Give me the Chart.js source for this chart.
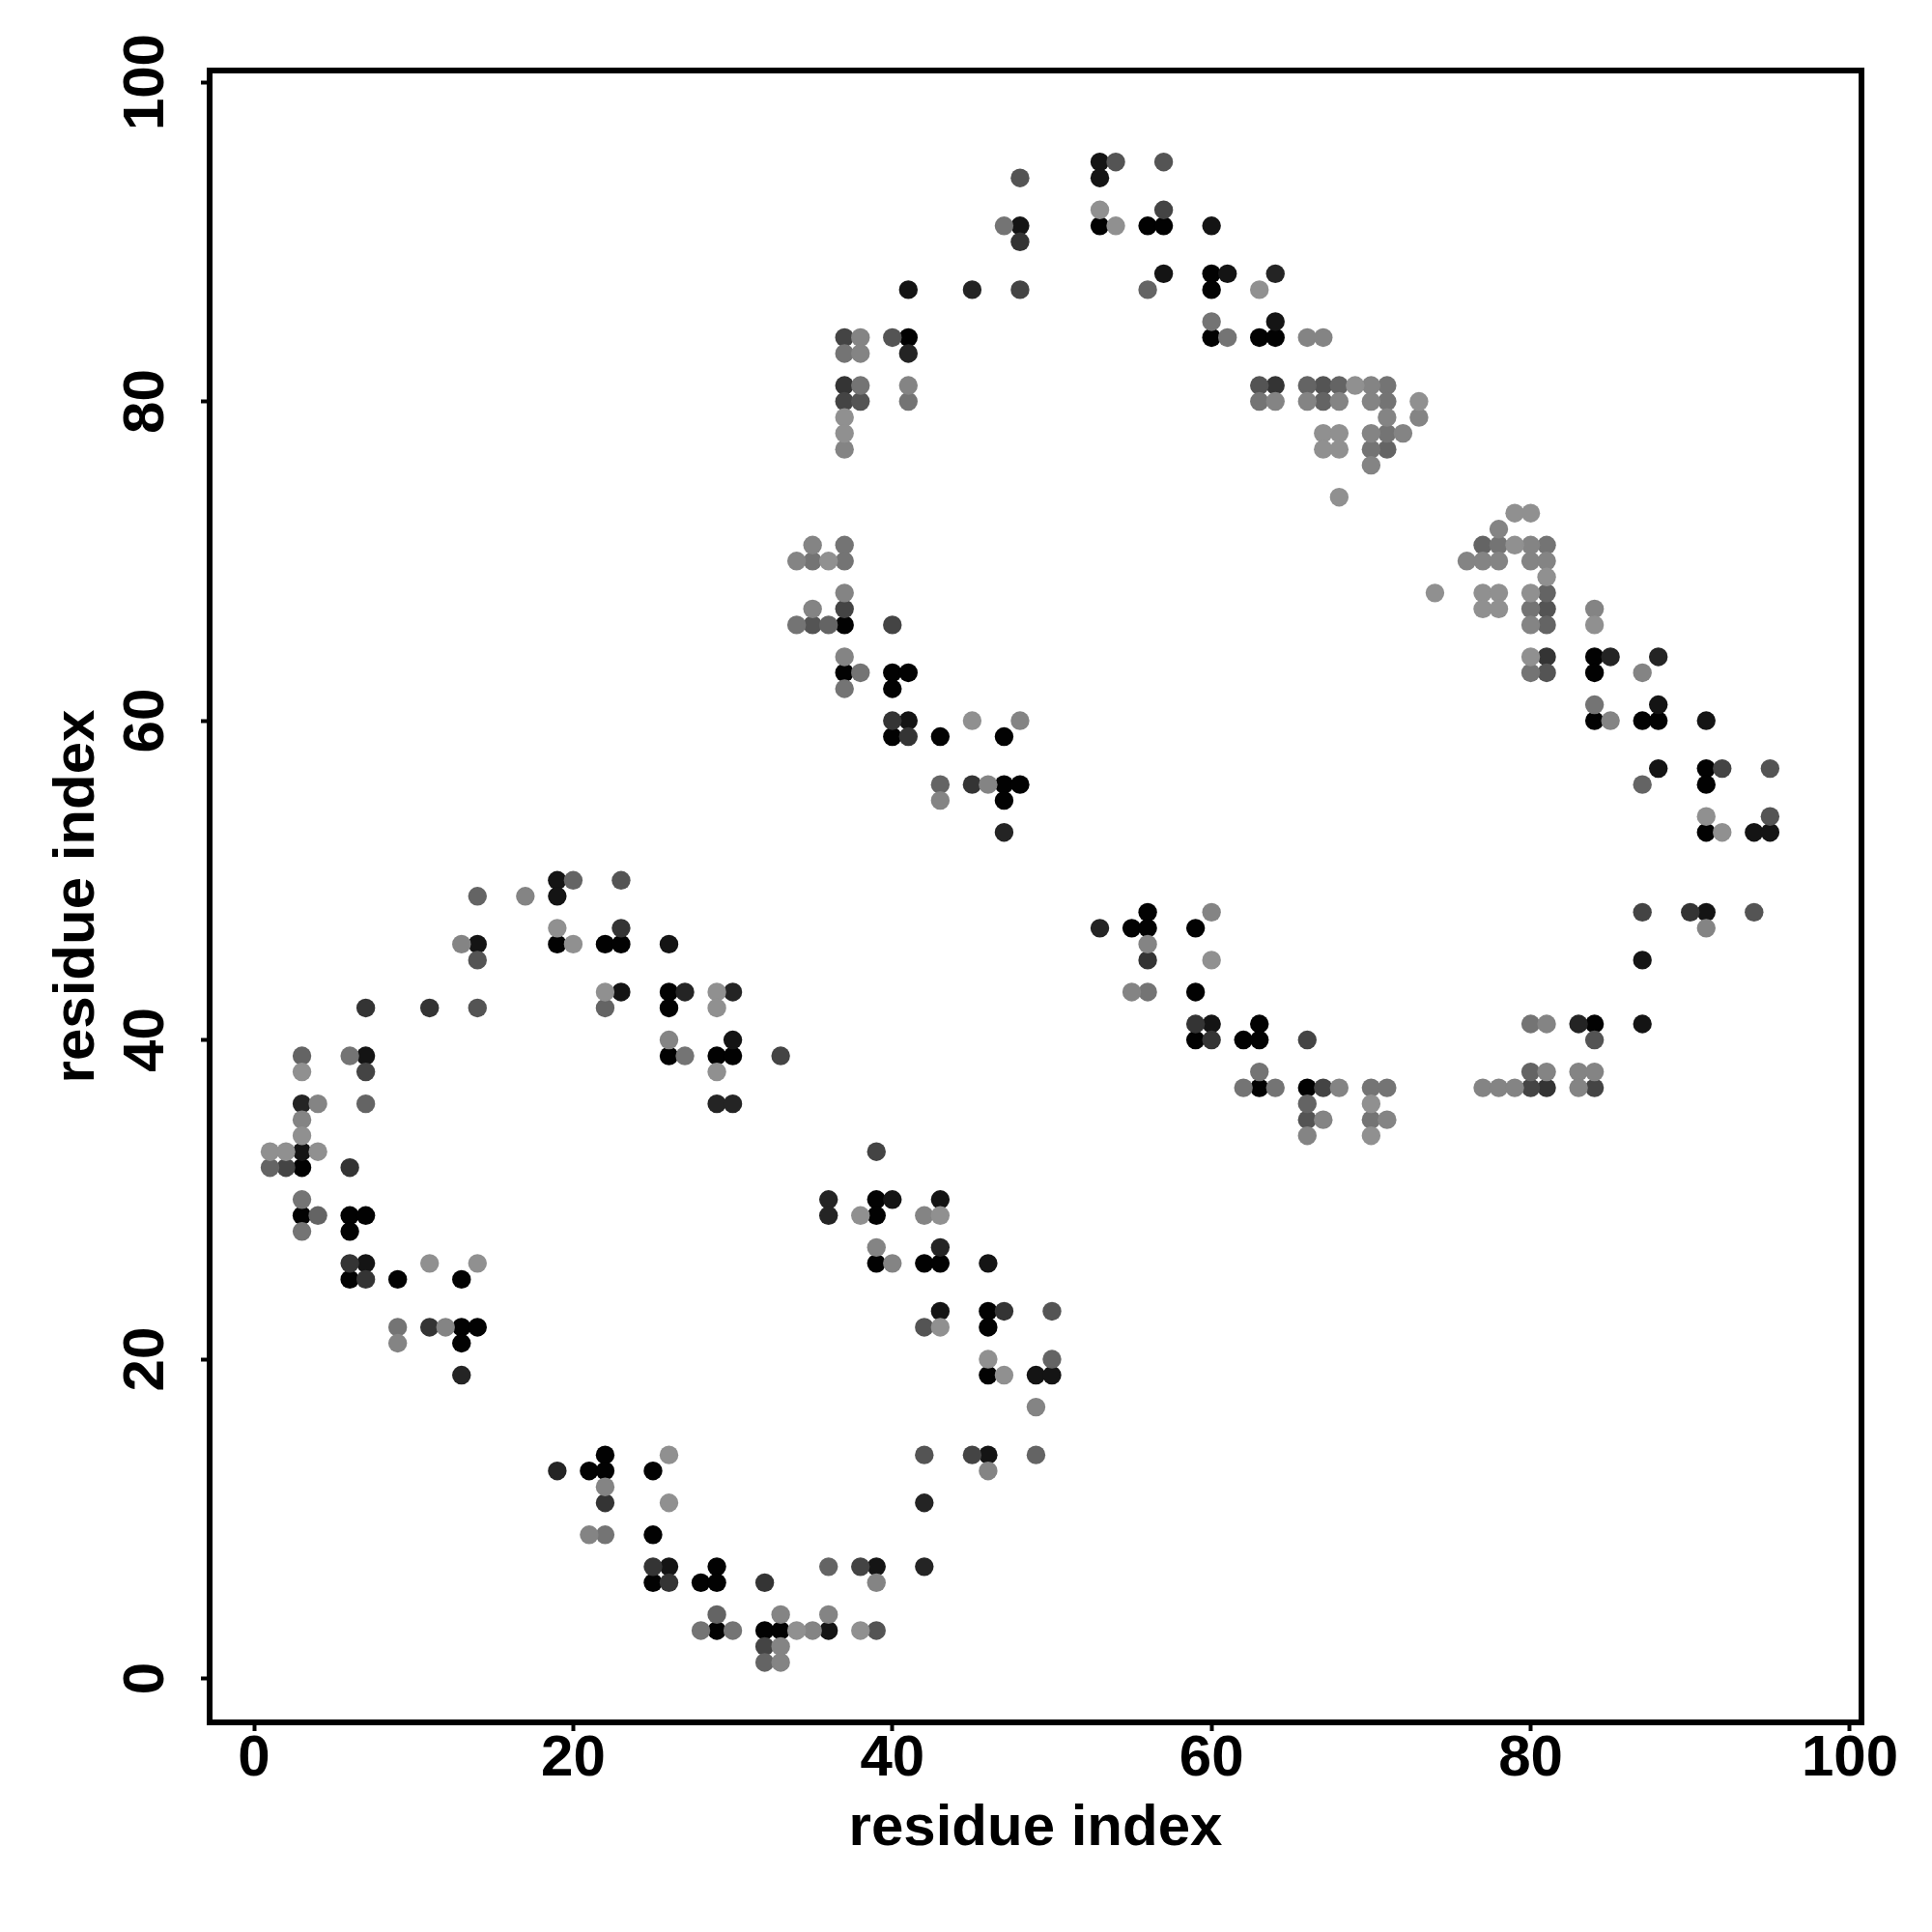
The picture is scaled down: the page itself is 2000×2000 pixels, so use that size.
<!DOCTYPE html>
<html>
<head>
<meta charset="utf-8">
<title>residue contacts</title>
<script src="https://cdn.jsdelivr.net/npm/chart.js@4"></script>
<style>
  html, body { margin: 0; padding: 0; background: #fff; }
  canvas { display: block; }
</style>
</head>
<body>
<canvas id="contactMap" width="2000" height="2000"></canvas>
<script>
// contacts as [x residue, y residue], grouped by how dark the dot is
const black = [[19,46],[22,46],[23,46],[26,43],[26,42],[26,39],[29,39],[30,39],[3,32],[3,29],[6,29],[7,29],[6,28],[6,25],[9,25],[13,25],[13,22],[14,22],[13,21],
  [39,30],[39,29],[39,26],[42,26],[43,26],[46,23],[46,22],[46,19],[22,14],[21,13],[22,13],[25,13],[25,9],[29,7],[25,6],[28,6],[29,6],[29,3],[32,3],[33,3],
  [37,66],[37,63],[40,63],[41,63],[40,62],[40,59],[43,59],[47,59],[47,56],[48,56],[47,55],
  [53,91],[56,91],[57,91],[60,88],[60,87],[41,84],[60,84],[63,84],[64,84],
  [84,64],[84,63],[84,60],[87,60],[88,60],[91,57],[91,56],[91,53],
  [56,48],[55,47],[56,47],[59,47],[59,43],[63,41],[84,41],[59,40],[62,40],[63,40],[63,37],[66,37]];
const gray1 = [[19,50],[19,49],[14,46],[26,46],[23,43],[30,40],[7,39],[3,33],[7,26],
  [40,30],[43,30],[46,26],[43,23],[49,19],[50,19],[46,14],[26,7],[39,7],[36,3],
  [41,60],[53,95],[53,94],[48,91],[60,91],[57,88],[61,88],[41,87],[64,85],
  [88,61],[94,53],[95,53],[91,60],[88,57],[91,48],[87,45],[60,41],[87,41]];
const gray2 = [[27,43],[30,43],[3,36],[29,36],[30,36],[13,19],[36,30],[36,29],[43,27],[19,13],[42,11],[42,7],
  [47,53],[45,87],[64,88],[41,83],[85,64],[88,64],[53,47],[83,41]];
const gray3 = [[23,47],[7,42],[11,42],[6,32],[6,26],[7,25],[11,22],[47,23],[22,11],[25,7],[26,6],[32,6],
  [40,60],[41,59],[45,56],[48,90],[37,81],[64,81],[81,64],[56,45],[59,41],[60,40],[90,48],[81,37]];
const gray4 = [[33,39],[7,38],[2,32],[39,33],[45,14],[38,7],[32,2],[37,67],[40,66],
  [57,92],[48,87],[37,84],[37,80],[92,57],[87,48],[66,40],[67,37],[80,37],[84,37]];
const gray5 = [[23,50],[14,45],[14,42],[50,23],[42,22],[42,14],[39,3],[35,66],
  [54,95],[57,95],[48,94],[40,84],[38,80],[63,81],[67,81],[81,67],[81,63],[95,57],[95,54],[94,48],[66,35],[84,40]];
const gray6 = [[20,50],[14,49],[22,42],[3,39],[7,36],[1,32],[4,29],[50,20],[49,14],[36,7],[29,4],[32,1],
  [36,66],[43,56],[56,87],[66,81],[68,81],[67,80],[71,77],[77,71],[81,68],[81,66],[87,56],[66,36],[80,38]];
const gray7 = [[6,39],[27,39],[3,30],[3,28],[9,22],[22,9],[28,3],[30,3],
  [37,71],[35,70],[37,70],[34,66],[38,63],[37,62],[60,85],[47,91],[61,84],[37,83],[38,81],[41,80],[63,80],
  [71,81],[71,80],[71,78],[70,77],[78,71],[81,71],[80,67],[80,63],[84,61],
  [56,43],[63,38],[80,41],[62,37],[64,37],[70,37],[71,37],[70,35]];
const gray8 = [[13,46],[17,49],[26,40],[4,36],[3,35],[12,22],[9,21],
  [42,29],[39,27],[40,26],[49,17],[46,13],[22,12],[21,9],[39,6],[33,4],[36,4],[35,3],[33,2],[33,1],
  [35,71],[34,70],[37,68],[35,67],[37,64],[48,60],[46,56],[43,55],
  [38,84],[66,84],[67,84],[38,83],[41,81],[37,77],
  [70,81],[66,80],[68,80],[70,80],[64,80],[71,79],[73,79],[70,78],[72,78],[70,76],[78,72],[80,71],[76,70],[77,70],[78,70],[80,70],[81,70],[84,67],[80,66],[87,63],[85,60],
  [60,48],[91,47],[56,46],[55,43],[81,41],[81,38],[83,38],[84,38],[68,37],[77,37],[78,37],[79,37],[83,37],[67,35],[71,35],[66,34]];
const gray9 = [[19,47],[20,46],[22,43],[29,43],[29,42],[3,38],[29,38],[3,34],[1,33],[2,33],[4,33],[11,26],[14,26],
  [38,29],[43,29],[43,22],[46,20],[47,19],[26,14],[26,11],[34,3],[38,3],
  [36,70],[45,60],[53,92],[54,91],[63,87],[37,79],[37,78],
  [69,81],[73,80],[67,78],[68,78],[67,77],[68,77],[68,74],[79,73],[80,73],[79,71],[81,69],[74,68],[77,68],[78,68],[80,68],[77,67],[78,67],[84,66],[80,64],[91,54],[92,53],
  [60,45],[70,36],[70,34]];

const tickValues = [0, 20, 40, 60, 80, 100];
const axisTitle = 'residue index';

// lightest first so the dark dots end up on top
const groups = [
  {pts: gray9, color: '#909090'}, {pts: gray8, color: '#848484'}, {pts: gray7, color: '#747474'},
  {pts: gray6, color: '#646464'}, {pts: gray5, color: '#545454'}, {pts: gray4, color: '#444444'},
  {pts: gray3, color: '#343434'}, {pts: gray2, color: '#242424'}, {pts: gray1, color: '#141414'},
  {pts: black, color: '#020202'}
];

const axisFont = {family: '"Liberation Sans"', weight: 'bold', size: 60};

const frame = {
  id: 'frame',
  afterDraw(chart) {
    const {ctx, chartArea: a} = chart;
    ctx.save();
    ctx.strokeStyle = '#000';
    ctx.lineWidth = 6;
    ctx.strokeRect(a.left, a.top, a.right - a.left, a.bottom - a.top);
    ctx.restore();
  }
};

function axisOptions(min, max, titlePadding) {
  return {
    type: 'linear',
    min: min,
    max: max,
    afterBuildTicks: (axis) => { axis.ticks = tickValues.map(v => ({value: v})); },
    grid: {drawOnChartArea: false, drawTicks: true, tickLength: 9, tickWidth: 4, tickColor: '#000'},
    border: {display: true, color: '#000', width: 6},
    title: {display: true, text: axisTitle, color: '#000', font: axisFont, padding: titlePadding}
  };
}

const xAxis = axisOptions(-2.785, 100.73, {top: 0, bottom: 71});
xAxis.position = 'bottom';
xAxis.ticks = {color: '#000', font: axisFont, padding: -7, autoSkip: false, maxRotation: 0, minRotation: 0};
xAxis.afterFit = (axis) => { axis.height = 217; };

const yAxis = axisOptions(-2.753, 100.73, {top: 44, bottom: 0});
yAxis.position = 'left';
yAxis.ticks = {color: '#000', font: axisFont, padding: 5, autoSkip: false, minRotation: 90, maxRotation: 90, crossAlign: 'center'};
yAxis.afterFit = (axis) => { axis.width = 217; };

new Chart(document.getElementById('contactMap'), {
  type: 'scatter',
  data: {
    datasets: groups.map(g => ({
      data: g.pts.map(p => ({x: p[0], y: p[1]})),
      backgroundColor: g.color,
      borderWidth: 0,
      pointRadius: 9.7,
      clip: false
    }))
  },
  options: {
    responsive: false,
    animation: false,
    layout: {padding: {top: 73, right: 73, left: 0, bottom: 0}},
    plugins: {legend: {display: false}, tooltip: {enabled: false}},
    scales: {x: xAxis, y: yAxis}
  },
  plugins: [frame]
});
</script>
</body>
</html>
